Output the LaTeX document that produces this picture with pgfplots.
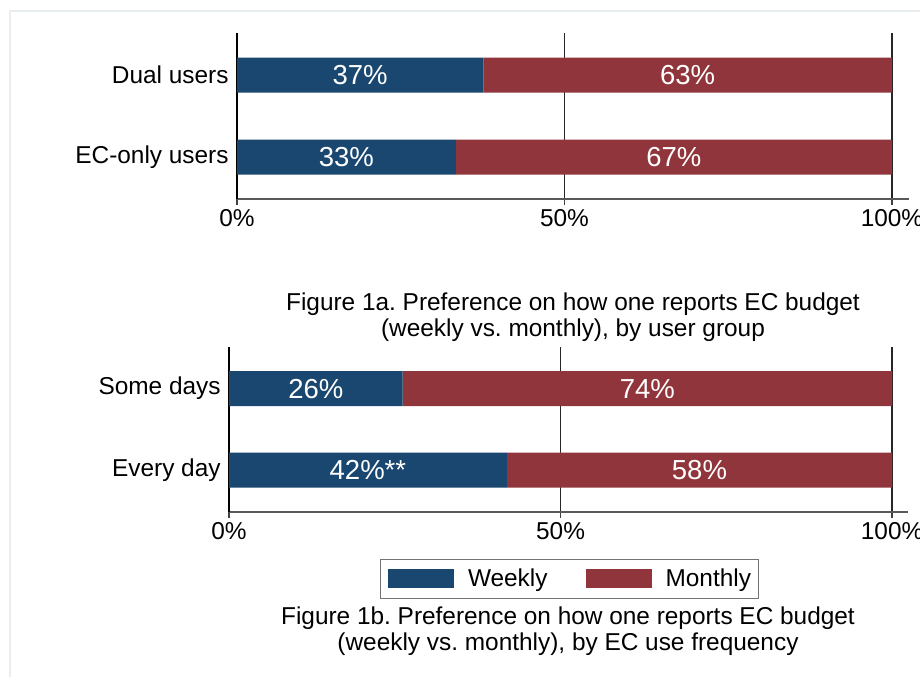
\documentclass[border=0pt]{standalone}
\usepackage{fontspec}
\setmainfont{Liberation Sans}
\usepackage{pgfplots}
\pgfplotsset{compat=1.18}
\definecolor{navy}{RGB}{26,71,111}
\definecolor{maroon}{RGB}{144,53,59}
\definecolor{framec}{RGB}{232,238,240}
\newcommand{\lblfont}{\fontsize{12.2}{14}\selectfont}
\newcommand{\barfont}{\fontsize{13.75}{15}\selectfont}
\pgfplotsset{
  panel/.style={
    scale only axis,
    anchor=south west,
    xbar stacked,
    bar width=17.5pt,
    xmin=0,
    ytick={0,1},
    axis x line=bottom,
    axis y line=left,
    axis line style={-},
    x axis line style={black!65, line width=0.6pt},
    y axis line style={black, line width=0.7pt},
    xtick={0,50,100},
    xticklabels={0\%,50\%,100\%},
    xmajorgrids,
    grid style={black!85, line width=0.6pt},
    tick align=outside,
    major tick length=3pt,
    ytick style={draw=none},
    xtick style={black!75, line width=0.6pt},
    tick label style={font=\lblfont},
    yticklabel style={inner xsep=0pt, xshift=-1pt},
    xticklabel style={yshift=1.5pt},
    clip=false,
  },
  labelpanel/.style={
    scale only axis,
    anchor=south west,
    hide axis,
    xmin=0,
    clip=false,
  },
  barlbl/.style={draw=none, mark=none, nodes near coords, point meta=explicit symbolic,
    nodes near coords align={center},
    every node near coord/.append style={white, font=\barfont, anchor=center}},
}
\frenchspacing
\begin{document}
\begin{tikzpicture}
\useasboundingbox (0,0) rectangle (460pt,-338.5pt);
\draw[framec, line width=0.75pt] (5pt,-338.5pt) -- (5pt,-5.5pt) -- (460pt,-5.5pt);

% Figure 1a
\begin{axis}[panel,
  at={(118.5pt,-99.5pt)},
  width=336pt, height=83pt,
  xmax=102.6,
  ymin=-0.512, ymax=1.512,
  yticklabels={EC-only users, Dual users},
]
\addplot[fill=navy, draw=none] coordinates {(37.6,1) (33.4,0)};
\addplot[fill=maroon, draw=none] coordinates {(62.4,1) (66.6,0)};
\end{axis}
\begin{axis}[labelpanel,
  at={(118.5pt,-99.5pt)},
  width=336pt, height=83pt,
  xmax=102.6,
  ymin=-0.512, ymax=1.512,
]
\addplot[barlbl] coordinates {(18.8,1) [37\%] (68.8,1) [63\%] (16.7,0) [33\%] (66.7,0) [67\%]};
\end{axis}
\node[align=center, font=\fontsize{12.2}{13}\selectfont] at (286.5pt,-158.5pt)
  {Figure 1a. Preference on how one reports EC budget\\(weekly vs. monthly), by user group};

% Figure 1b
\begin{axis}[panel,
  at={(114.5pt,-256pt)},
  width=339.5pt, height=82.5pt,
  xmax=102.4,
  ymin=-0.515, ymax=1.51,
  yticklabels={Every day, Some days},
  legend columns=2,
  legend style={
    at={(0.2224,-0.2848)}, anchor=north west,
    draw=black!55, line width=0.5pt,
    inner xsep=3.75pt, inner ysep=3.5pt,
    font=\lblfont,
    nodes={inner xsep=0pt, inner ysep=1pt},
    /tikz/every odd column/.append style={column sep=7pt},
    /tikz/every even column/.append style={column sep=19pt},
  },
]
\addplot[fill=navy, draw=none,
  legend image code/.code={\fill[navy] (0pt,-4.75pt) rectangle (33pt,4.75pt);}]
  coordinates {(26.2,1) (41.9,0)};
\addlegendentry{Weekly}
\addplot[fill=maroon, draw=none,
  legend image code/.code={\fill[maroon] (0pt,-4.75pt) rectangle (33pt,4.75pt);}]
  coordinates {(73.8,1) (58.1,0)};
\addlegendentry{Monthly}
\end{axis}
\begin{axis}[labelpanel,
  at={(114.5pt,-256pt)},
  width=339.5pt, height=82.5pt,
  xmax=102.4,
  ymin=-0.515, ymax=1.51,
]
\addplot[barlbl] coordinates {(13.1,1) [26\%] (63.1,1) [74\%] (20.95,0) [42\%**] (70.95,0) [58\%]};
\end{axis}
\node[align=center, font=\fontsize{12.2}{13}\selectfont] at (284pt,-315.5pt)
  {Figure 1b. Preference on how one reports EC budget\\(weekly vs. monthly), by EC use frequency};
\end{tikzpicture}
\end{document}
